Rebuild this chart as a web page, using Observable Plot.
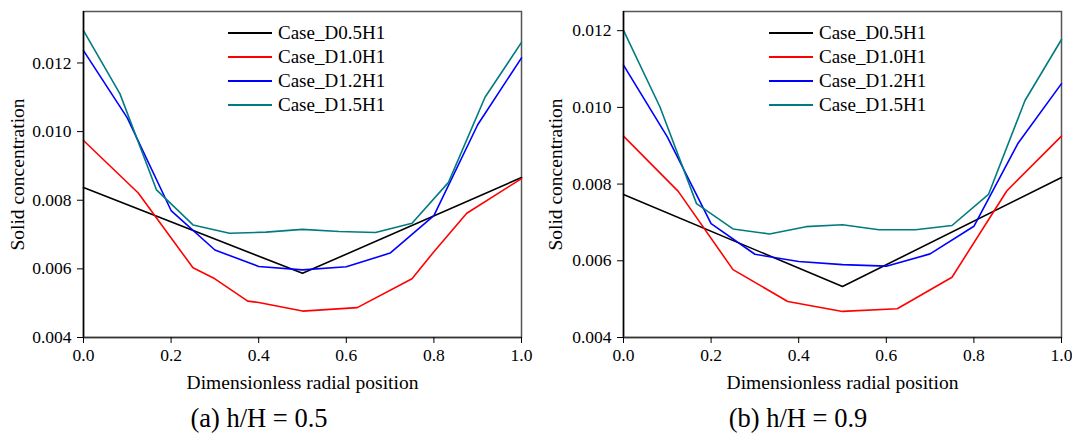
<!DOCTYPE html>
<html><head><meta charset="utf-8">
<script src="https://cdn.jsdelivr.net/npm/d3@7"></script>
<script src="https://cdn.jsdelivr.net/npm/@observablehq/plot@0.6"></script>
<style>
body{margin:0;background:#fff;}
#fig{position:relative;width:1072px;height:439px;background:#fff;color:#000;overflow:hidden}
#fig, #fig *{font-family:"Liberation Serif","Times New Roman",serif !important}
#fig svg{position:absolute;top:0}
.legend{position:absolute;top:21px;font-size:19px;line-height:24px}
.row{display:flex;align-items:center;height:24px;white-space:nowrap}
.sw{width:44px;height:0;border-top:2px solid;margin-right:6px}
.cap{position:absolute;top:405px;font-size:26.5px;line-height:1;text-align:center;width:300px;white-space:nowrap}
g[aria-label="x-axis label"] text, g[aria-label="y-axis label"] text{font-size:19.5px}
</style></head>
<body><div id="fig"></div>
<script>
// ---- data ----
const seriesNames = ["Case_D0.5H1", "Case_D1.0H1", "Case_D1.2H1", "Case_D1.5H1"];
const seriesColors = ["#000000", "#ff0000", "#0000ff", "#007b80"];
const xTicks = [0, 0.2, 0.4, 0.6, 0.8, 1.0];
const yTicks = [0.004, 0.006, 0.008, 0.010, 0.012];

// radial positions sampled by each case
const xD05 = [0, 0.5, 1];
const xD10a = [0, 0.125, 0.25, 0.3, 0.375, 0.4, 0.5, 0.625, 0.75, 0.8, 0.875, 1];
const xD10b = [0, 0.125, 0.25, 0.375, 0.5, 0.625, 0.75, 0.875, 1];
const xD12 = [0, 0.1, 0.2, 0.3, 0.4, 0.5, 0.6, 0.7, 0.8, 0.9, 1];
const xD15 = [0, 0.0833, 0.1667, 0.25, 0.3333, 0.4167, 0.5, 0.5833, 0.6667, 0.75, 0.8333, 0.9167, 1];

// (a) h/H = 0.5
const aD05 = [0.00837, 0.00587, 0.00866];
const aD10 = [0.00974, 0.00821, 0.00603, 0.00571, 0.00506, 0.00502, 0.00477, 0.00487, 0.00571, 0.0065, 0.00762, 0.00863];
const aD12 = [0.01236, 0.0104, 0.0077, 0.00655, 0.00607, 0.00597, 0.00606, 0.00646, 0.00755, 0.0102, 0.01215];
const aD15 = [0.01294, 0.0111, 0.0083, 0.00728, 0.00704, 0.00707, 0.00715, 0.00709, 0.00706, 0.00733, 0.00852, 0.0110, 0.0126];

// (b) h/H = 0.9
const bD05 = [0.00773, 0.00533, 0.00817];
const bD10 = [0.00925, 0.00781, 0.00577, 0.00494, 0.00468, 0.00475, 0.00557, 0.00782, 0.00925];
const bD12 = [0.0111, 0.00923, 0.00697, 0.00617, 0.00598, 0.0059, 0.00586, 0.00618, 0.0069, 0.00905, 0.01062];
const bD15 = [0.01201, 0.01001, 0.00749, 0.00683, 0.0067, 0.00689, 0.00694, 0.00681, 0.00681, 0.00692, 0.00773, 0.01018, 0.01177];

const captions = ["(a) h/H = 0.5", "(b) h/H = 0.9"];
const xLabel = "Dimensionless radial position";
const yLabel = "Solid concentration";

// ---- build ----
function rows(xs, ys, name) { return xs.map((x, i) => ({x, y: ys[i], series: name})); }
function table(sets) { return sets.flatMap(([xs, ys], i) => rows(xs, ys, seriesNames[i])); }

const dataA = table([[xD05, aD05], [xD10a, aD10], [xD12, aD12], [xD15, aD15]]);
const dataB = table([[xD05, bD05], [xD10b, bD10], [xD12, bD12], [xD15, bD15]]);

function panel(data, yTop, width, marginRight, yLabelOffset) {
  return Plot.plot({
    width, height: 400,
    marginLeft: 83, marginRight, marginTop: 11, marginBottom: 63,
    style: {fontFamily: '"Liberation Serif", "Times New Roman", serif', fontSize: "17.5px", background: "white", color: "black"},
    x: {domain: [0, 1]},
    y: {domain: [0.004, yTop]},
    color: {domain: seriesNames, range: seriesColors},
    marks: [
      Plot.frame({stroke: "#555", strokeWidth: 1.5}),
      Plot.line(data, {x: "x", y: "y", z: "series", stroke: "series", strokeWidth: 1.6}),
      Plot.ruleX([0], {stroke: "#000", strokeWidth: 1.5}),
      Plot.ruleY([0.004], {stroke: "#333", strokeWidth: 1.5}),
      Plot.axisX({ticks: xTicks, tickFormat: d3.format(".1f"), tickSize: 6, tickPadding: 5,
        label: xLabel, labelAnchor: "center", labelArrow: "none", labelOffset: 51}),
      Plot.axisY({ticks: yTicks, tickFormat: d3.format(".3f"), tickSize: 6, tickPadding: 6,
        label: yLabel, labelAnchor: "center", labelArrow: "none", labelOffset: yLabelOffset})
    ]
  });
}

const fig = document.getElementById("fig");
const svgA = panel(dataA, 0.0135, 540, 19, 73);
svgA.style.left = "0px";
fig.appendChild(svgA);
const svgB = panel(dataB, 0.0125, 532, 11, 75);
svgB.style.left = "540px";
fig.appendChild(svgB);

function legend(left) {
  const div = document.createElement("div");
  div.className = "legend";
  div.style.left = left + "px";
  seriesNames.forEach((n, i) => {
    const r = document.createElement("div");
    r.className = "row";
    const sw = document.createElement("div");
    sw.className = "sw";
    sw.style.borderTopColor = seriesColors[i];
    const t = document.createElement("span");
    t.textContent = n;
    r.appendChild(sw); r.appendChild(t);
    div.appendChild(r);
  });
  fig.appendChild(div);
}
legend(228);
legend(769);

function caption(text, center) {
  const d = document.createElement("div");
  d.className = "cap";
  d.style.left = (center - 150) + "px";
  d.textContent = text;
  fig.appendChild(d);
}
caption(captions[0], 259);
caption(captions[1], 798);
</script></body></html>
